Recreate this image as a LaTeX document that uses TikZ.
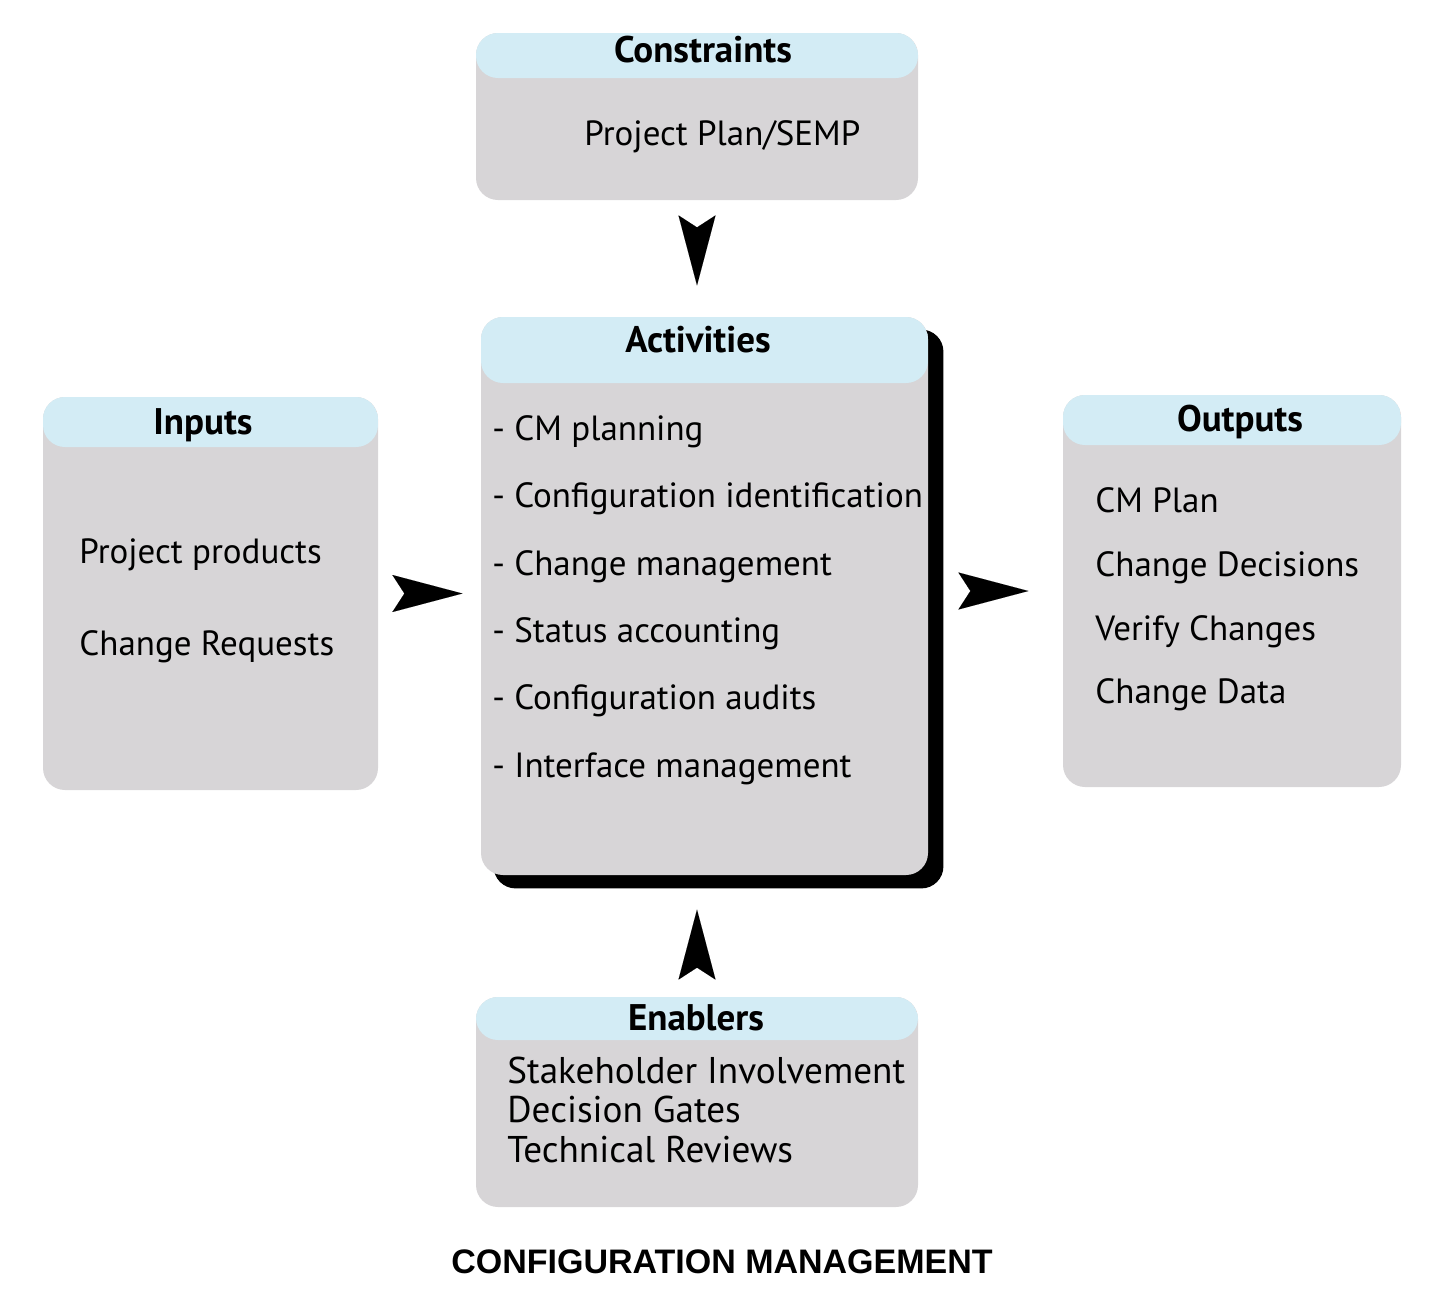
\documentclass[tikz,border=0pt]{standalone}
\usepackage{fontspec}
\setmainfont{PT Sans}
\newfontfamily\titlefont{Liberation Sans}
\usetikzlibrary{arrows.meta,backgrounds}
\definecolor{hdrblue}{HTML}{D3ECF5}
\definecolor{boxgray}{HTML}{D7D5D7}
\begin{document}
\begin{tikzpicture}[x=0.5pt,y=-0.5pt,
  hdr/.code={\def\hdrh{#1}},
  box/.style={rectangle, rounded corners=11pt, fill=boxgray, inner sep=0pt,
    path picture={\fill[hdrblue] (path picture bounding box.north west) rectangle ([yshift=-\hdrh]path picture bounding box.north east);}},
  item/.style={inner sep=0pt, anchor=base west, font=\fontsize{17.5}{20}\selectfont},
  bigitem/.style={item, font=\fontsize{18.6}{21}\selectfont},
  hd/.style={inner sep=0pt, anchor=base, font=\fontsize{18.5}{21}\selectfont\bfseries},
  flow/.style={line width=0.01pt, shorten <=7pt, -{Stealth[length=35pt, width=18.5pt, inset=6pt]}}
]
\useasboundingbox (0,0) rectangle (1440,1312);

% boxes
\node[box, hdr=22.5pt, minimum width=221pt, minimum height=83.5pt] (cons) at (697,116.5) {};
\node[box, hdr=25pt, minimum width=167.5pt, minimum height=196.5pt] (inp) at (210.5,593.5) {};
\node[box, hdr=33pt, minimum width=223.5pt, minimum height=279pt] (act) at (704.5,596) {};
\node[box, hdr=25pt, minimum width=169pt, minimum height=196pt] (out) at (1232,591) {};
\node[box, hdr=21.5pt, minimum width=221pt, minimum height=105pt] (ena) at (697,1102) {};

\begin{scope}[on background layer]
  \fill[black, rounded corners=11pt] ([shift={(6.5pt,-6.5pt)}]act.south west) rectangle ([shift={(7.5pt,-6.5pt)}]act.north east);
\end{scope}

% headers
\node[hd] (consh) at (703,62) {Constraints};
\node[hd] (acth) at (698,352) {Activities};
\node[hd] (inph) at (203,434) {Inputs};
\node[hd] (outh) at (1240,431) {Outputs};
\node[hd] (enah) at (696,1030) {Enablers};

% constraints
\node[item] (c1) at (584,145) {Project Plan/SEMP};
% inputs
\node[item] (i1) at (79,563) {Project products};
\node[item] (i2) at (79,655) {Change Requests};
% activities
\node[item] (a1) at (492,440) {- CM planning};
\node[item] (a2) at (492,507) {- Configuration identification};
\node[item] (a3) at (492,575) {- Change management};
\node[item] (a4) at (492,642) {- Status accounting};
\node[item] (a5) at (492,709) {- Configuration audits};
\node[item] (a6) at (492,777) {- Interface management};
% outputs
\node[item] (o1) at (1095,512) {CM Plan};
\node[item] (o2) at (1095,576) {Change Decisions};
\node[item] (o3) at (1095,640) {Verify Changes};
\node[item] (o4) at (1095,703) {Change Data};
% enablers
\node[bigitem] (e1) at (507,1083) {Stakeholder Involvement};
\node[bigitem] (e2) at (507,1122) {Decision Gates};
\node[bigitem] (e3) at (507,1162) {Technical Reviews};

% arrows
\draw[flow] ([yshift=-7.5pt]cons.south) -- ([yshift=-42.5pt]cons.south);
\draw[flow] ([xshift=7pt]inp.east) -- ([xshift=42pt]inp.east);
\draw[flow] ([xshift=15pt]act.east |- out.west) -- ([xshift=50pt]act.east |- out.west);
\draw[flow] ([yshift=8.5pt]ena.north) -- ([yshift=43.5pt]ena.north);

% title
\node[inner sep=0pt, anchor=base, font=\titlefont\fontsize{17}{20}\selectfont\bfseries] (title) at (722,1273) {CONFIGURATION MANAGEMENT};
\end{tikzpicture}
\end{document}
